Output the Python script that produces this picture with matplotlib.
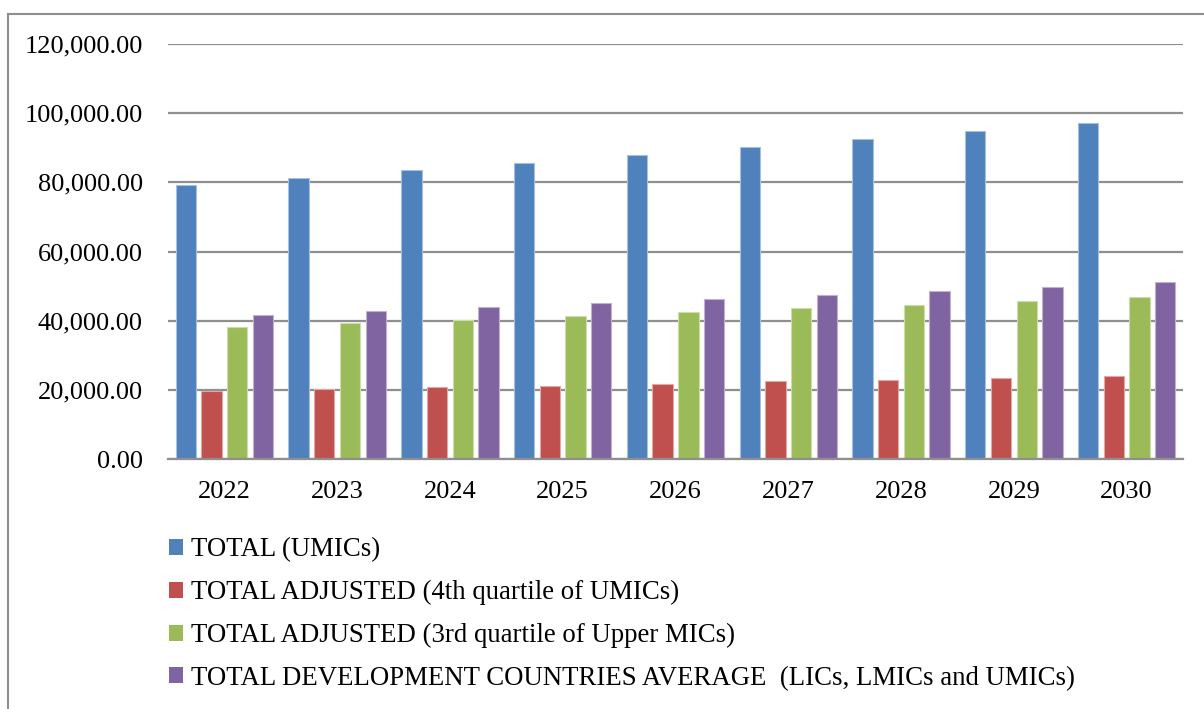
import matplotlib
matplotlib.use("Agg")
import matplotlib.pyplot as plt
import numpy as np
from matplotlib.ticker import FuncFormatter, MultipleLocator
from matplotlib.lines import Line2D

years = ["2022", "2023", "2024", "2025", "2026", "2027", "2028", "2029", "2030"]
total_umics = [79300, 81250, 83500, 85700, 87900, 90300, 92500, 94800, 97300]
adj_4th_umics = [19700, 20300, 20800, 21250, 21800, 22500, 22950, 23600, 24100]
adj_3rd_upper = [38300, 39300, 40300, 41300, 42500, 43600, 44600, 45800, 47000]
dev_avg = [41800, 42800, 44000, 45200, 46350, 47400, 48600, 49900, 51100]

labels = ["TOTAL (UMICs)",
          "TOTAL ADJUSTED (4th quartile of UMICs)",
          "TOTAL ADJUSTED (3rd quartile of Upper MICs)",
          "TOTAL DEVELOPMENT COUNTRIES AVERAGE  (LICs, LMICs and UMICs)"]
colors = ["#4F81BD", "#C0504D", "#9BBB59", "#8064A2"]
edges = ["#A7C0DE", "#E0A8A6", "#CDDDAC", "#BFB1D0"]

plt.rcParams['font.family'] = ['Liberation Serif', 'DejaVu Serif']

fig = plt.figure(figsize=(12.04, 7.09), dpi=100)
ax = fig.add_axes([168/1204, 1-459.3/709, (1183-168)/1204, (459.3-44)/709])

series = [total_umics, adj_4th_umics, adj_3rd_upper, dev_avg]
x = np.arange(len(years))
slot = 0.228
bw = 0.18
handles = []
for i, (s, c, e) in enumerate(zip(series, colors, edges)):
    b = ax.bar(x + (i - 1.5) * slot, s, width=bw, color=c, edgecolor=e,
               linewidth=0.8, label=labels[i], zorder=3)
    handles.append(b)

ax.set_xlim(-0.5, len(years) - 0.5)
ax.set_ylim(0, 120000)
ax.yaxis.set_major_locator(MultipleLocator(20000))
ax.yaxis.set_major_formatter(FuncFormatter(lambda v, p: f"{v:,.2f}"))
ax.set_xticks(x)
ax.set_xticklabels(years)
ax.grid(axis='y', color='#8F8F8F', linewidth=1.6, zorder=0)
for sp in ['left', 'right', 'top']:
    ax.spines[sp].set_visible(False)
ax.spines['bottom'].set_color('#8F8F8F')
ax.spines['bottom'].set_linewidth(1.6)
ax.spines['bottom'].set_zorder(4)
ax.tick_params(axis='y', length=0, pad=18, labelsize=19)
ax.tick_params(axis='x', length=0, pad=15.5, labelsize=19)

leg = fig.legend(handles=handles, labels=labels, loc='upper left',
                 bbox_to_anchor=(169/1204, 1-537.5/709), frameon=False,
                 fontsize=19.3, handlelength=0.53, handleheight=0.53,
                 handletextpad=0.28, labelspacing=0.66, borderpad=0,
                 borderaxespad=0)
for h in leg.legend_handles:
    h.set_edgecolor('none')

# outer frame
fig.add_artist(Line2D([8/1204, 8/1204], [0, 1-14/709], color='#8F8F8F',
                      linewidth=1.5, transform=fig.transFigure))
fig.add_artist(Line2D([8/1204, 1], [1-14/709, 1-14/709], color='#8F8F8F',
                      linewidth=1.5, transform=fig.transFigure))

fig.savefig("out.png", dpi=100)
